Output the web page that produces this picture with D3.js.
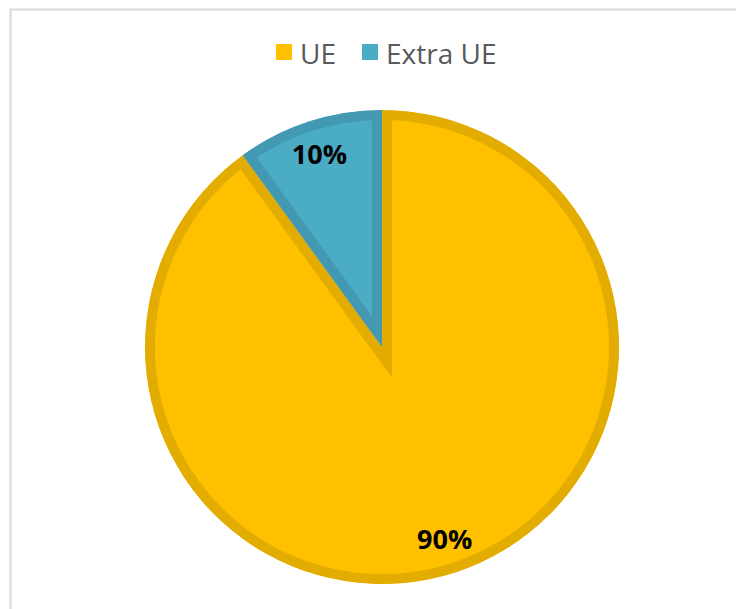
<!DOCTYPE html>
<html>
<head>
<meta charset="utf-8">
<script src="https://cdn.jsdelivr.net/npm/d3@7"></script>
<style>
  body { margin: 0; background: #fff; }
  svg { display: block; }
</style>
</head>
<body>
<svg id="chart" width="736" height="609"></svg>
<script>
const categories = ['UE', 'Extra UE'];
const values = [90, 10];
const labels = ['90%', '10%'];
const fills = ['#FFC000', '#4BACC6'];
const strokes = ['#E3AC00', '#4399B1'];

const svg = d3.select('#chart');
const width = 736;
const height = 609;

// chart area border
svg.append('rect')
  .attr('x', 10.5)
  .attr('y', 9.5)
  .attr('width', width)
  .attr('height', height)
  .attr('fill', 'none')
  .attr('stroke', '#d9d9d9')
  .attr('stroke-width', 2);

const cx = 382;
const cy = 347;
const radius = 237;

const pie = d3.pie().sort(null).value(d => d)(values);
const arc = d3.arc().innerRadius(0).outerRadius(radius);
const labelArc = d3.arc().innerRadius(radius * 0.855).outerRadius(radius * 0.855);

const g = svg.append('g').attr('transform', `translate(${cx},${cy})`);

const defs = svg.append('defs');
pie.forEach((d, i) => {
  defs.append('clipPath').attr('id', 'clip' + i)
    .append('path').attr('d', arc(d));
});

// slices, border drawn inside each one
g.selectAll('.slice')
  .data(pie)
  .enter()
  .append('path')
  .attr('class', 'slice')
  .attr('d', arc)
  .attr('fill', (d, i) => fills[i])
  .attr('stroke', (d, i) => strokes[i])
  .attr('stroke-width', 20)
  .attr('stroke-linejoin', 'miter')
  .attr('clip-path', (d, i) => `url(#clip${i})`);

g.selectAll('.label')
  .data(pie)
  .enter()
  .append('text')
  .attr('class', 'label')
  .attr('transform', d => `translate(${labelArc.centroid(d)})`)
  .attr('text-anchor', 'middle')
  .attr('dy', '0.36em')
  .attr('font-family', 'Open Sans')
  .attr('font-weight', 'bold')
  .attr('font-size', 27)
  .attr('fill', '#000')
  .text((d, i) => labels[i]);

// legend
const legend = svg.append('g').attr('font-family', 'Open Sans').attr('font-size', 28).attr('fill', '#595959');
const legendX = [276, 362];
categories.forEach((c, i) => {
  legend.append('rect')
    .attr('x', legendX[i])
    .attr('y', 44)
    .attr('width', 16)
    .attr('height', 16)
    .attr('fill', fills[i]);
  legend.append('text')
    .attr('x', legendX[i] + 24)
    .attr('y', 64)
    .text(c);
});
</script>
</body>
</html>
